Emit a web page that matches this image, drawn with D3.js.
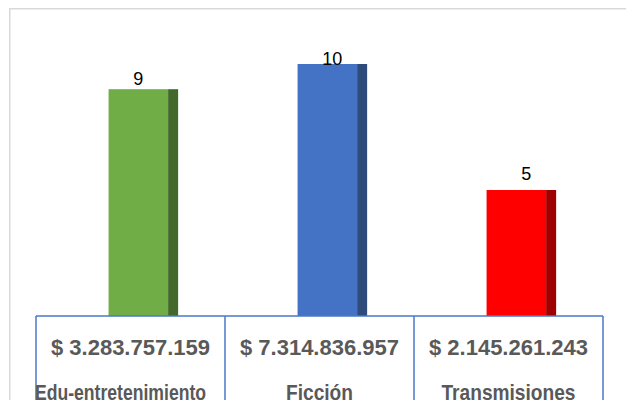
<!DOCTYPE html>
<html><head><meta charset="utf-8">
<script src="https://cdn.jsdelivr.net/npm/d3@7"></script>
<style>html,body{margin:0;padding:0;background:#fff;overflow:hidden}</style>
</head><body>
<svg id="c" width="626" height="400"></svg>
<script>
const categories = ["Edu-entretenimiento", "Ficción", "Transmisiones"];
const counts = [9, 10, 5];
const amounts = ["$ 3.283.757.159", "$ 7.314.836.957", "$ 2.145.261.243"];
const frontColors = ["#70AD47", "#4472C4", "#FF0000"];
const sideColors = ["#43682B", "#2F4B7C", "#A00000"];

(function () {
const svg = d3.select("#c");
const W = 626, H = 400;
const padL = 36, padR = 603, base = 316, plotTop = 64;

// outer frame
svg.append("rect").attr("x", 9.75).attr("y", 8.75).attr("width", 700).attr("height", 500)
  .attr("fill", "none").attr("stroke", "#D9D9D9").attr("stroke-width", 1.5);

const x = d3.scaleBand().domain(categories).range([padL, padR]).padding(0);
const y = d3.scaleLinear().domain([0, 10]).range([base, plotTop]);
const bw = x.bandwidth();
const fx = c => x(c) + bw * 0.384;
const fw = bw * 0.315, sw = bw * 0.053;

const g = svg.append("g");
categories.forEach((c, i) => {
  g.append("rect").attr("x", fx(c)).attr("y", y(counts[i])).attr("width", fw)
    .attr("height", y(0) - y(counts[i])).attr("fill", frontColors[i]);
  g.append("rect").attr("x", fx(c) + fw).attr("y", y(counts[i])).attr("width", sw)
    .attr("height", y(0) - y(counts[i])).attr("fill", sideColors[i]);
});

// value labels
const labelDy = [-4, 1, -10];
const labelDx = [-5, 0, 5];
categories.forEach((c, i) => {
  g.append("text").attr("x", fx(c) + (fw + sw) / 2 + labelDx[i]).attr("y", y(counts[i]) + labelDy[i])
    .attr("text-anchor", "middle").attr("font-family", "Liberation Sans, Arial, sans-serif")
    .attr("font-size", 18).attr("fill", "#000").text(counts[i]);
});

// data table
const tbl = svg.append("g").attr("stroke", "#4A78C8").attr("stroke-width", 1.5).attr("fill", "none");
tbl.append("line").attr("x1", padL).attr("x2", padR).attr("y1", base).attr("y2", base);
const edges = categories.map(c => x(c)).concat([padR]);
edges.forEach(e => tbl.append("line").attr("x1", e).attr("x2", e).attr("y1", base).attr("y2", H + 5));

categories.forEach((c, i) => {
  svg.append("text").attr("x", x(c) + bw / 2).attr("y", 355)
    .attr("text-anchor", "middle").attr("font-family", "Liberation Sans, Arial, sans-serif")
    .attr("font-weight", "bold").attr("font-size", 22).attr("fill", "#595959").text(amounts[i]);
  const t = svg.append("text").attr("x", x(c) + bw / 2 - (i === 0 ? 10 : 0)).attr("y", 400)
    .attr("text-anchor", "middle").attr("font-family", "Liberation Sans, Arial, sans-serif")
    .attr("font-weight", "bold").attr("font-size", 22).attr("fill", "#595959").text(c);
  const n = t.node().getComputedTextLength();
  t.attr("textLength", n * (i === 0 ? 0.8 : 0.87)).attr("lengthAdjust", "spacingAndGlyphs");
});
})();
</script>
</body></html>
